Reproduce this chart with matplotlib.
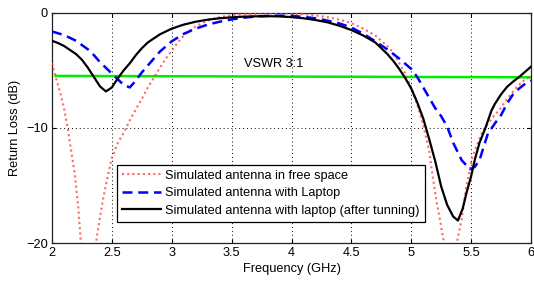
import matplotlib
matplotlib.use("Agg")
import matplotlib.pyplot as plt

plt.rcParams["font.family"] = ["Liberation Sans", "DejaVu Sans"]

# Simulated antenna in free space (red dotted)
free_f = [2.00, 2.03, 2.07, 2.10, 2.13, 2.16, 2.19, 2.22, 2.24, 2.27, 2.30, 2.33, 2.37, 2.40,
          2.43, 2.47, 2.50, 2.55, 2.60, 2.65, 2.70, 2.75, 2.80, 2.86, 2.90, 2.95, 3.00, 3.05,
          3.10, 3.20, 3.30, 3.40, 3.50, 3.60, 3.70, 3.80, 3.90, 4.00, 4.10, 4.20, 4.30, 4.40,
          4.50, 4.60, 4.70, 4.80, 4.85, 4.90, 4.95, 5.00, 5.05, 5.10, 5.15, 5.18, 5.21, 5.24,
          5.27, 5.30, 5.33, 5.36, 5.38, 5.42, 5.46, 5.51, 5.56, 5.60, 5.68, 5.74, 5.80, 5.87,
          5.94, 6.00]
free_s = [-4.4, -5.6, -7.0, -8.3, -10.0, -12.0, -14.0, -17.0, -19.8, -23.0, -25.0, -23.5, -19.8, -17.8,
          -16.0, -14.0, -12.6, -11.3, -10.4, -9.35, -8.4, -7.5, -6.5, -5.5, -4.8, -4.0, -3.3, -2.6,
          -2.0, -1.2, -0.7, -0.4, -0.25, -0.15, -0.1, -0.08, -0.08, -0.1, -0.15, -0.25, -0.4, -0.62,
          -0.92, -1.4, -2.0, -2.9, -3.5, -4.4, -5.3, -6.5, -8.0, -9.8, -12.0, -14.3, -16.3, -18.0,
          -19.8, -22.5, -24.0, -22.5, -20.0, -18.0, -15.1, -12.5, -11.2, -10.2, -9.1, -8.4, -7.5, -6.6,
          -5.9, -5.5]

# Simulated antenna with Laptop (blue dashed)
lap_f = [2.00, 2.10, 2.20, 2.30, 2.35, 2.40, 2.45, 2.50, 2.55, 2.60, 2.65, 2.70, 2.75, 2.80,
         2.90, 3.00, 3.10, 3.20, 3.30, 3.40, 3.50, 3.60, 3.70, 3.80, 3.90, 4.00, 4.10, 4.20,
         4.30, 4.40, 4.50, 4.60, 4.70, 4.80, 4.90, 5.00, 5.05, 5.10, 5.15, 5.20, 5.25, 5.30,
         5.35, 5.42, 5.49, 5.53, 5.57, 5.64, 5.70, 5.75, 5.80, 5.85, 5.90, 5.95, 6.00]
lap_s = [-1.65, -1.95, -2.45, -3.2, -3.7, -4.3, -4.8, -5.3, -5.8, -6.3, -6.5, -5.9, -5.2, -4.6,
         -3.4, -2.5, -1.85, -1.4, -1.05, -0.8, -0.6, -0.45, -0.35, -0.3, -0.28, -0.3, -0.38, -0.5,
         -0.7, -0.95, -1.3, -1.85, -2.5, -3.2, -4.0, -4.9, -5.6, -6.5, -7.4, -8.3, -9.0, -9.9,
         -11.3, -12.8, -13.6, -13.4, -12.8, -10.5, -9.6, -8.9, -7.9, -7.1, -6.6, -6.2, -5.9]

# Simulated antenna with laptop, after tuning (black solid)
tun_f = [2.00, 2.05, 2.10, 2.15, 2.20, 2.25, 2.30, 2.35, 2.40, 2.45, 2.50, 2.55, 2.60, 2.65,
         2.70, 2.75, 2.80, 2.90, 3.00, 3.10, 3.20, 3.30, 3.40, 3.50, 3.60, 3.70, 3.80, 3.90,
         4.00, 4.10, 4.20, 4.30, 4.40, 4.50, 4.60, 4.70, 4.80, 4.85, 4.90, 4.95, 5.00, 5.05,
         5.10, 5.15, 5.20, 5.25, 5.30, 5.35, 5.39, 5.43, 5.46, 5.50, 5.53, 5.57, 5.62, 5.67,
         5.70, 5.75, 5.80, 5.85, 5.90, 5.95, 6.00]
tun_s = [-2.45, -2.65, -2.9, -3.25, -3.6, -4.1, -4.8, -5.6, -6.4, -6.85, -6.5, -5.7, -5.0, -4.4,
         -3.7, -3.1, -2.6, -1.9, -1.4, -1.05, -0.8, -0.62, -0.5, -0.42, -0.36, -0.33, -0.32, -0.34,
         -0.4, -0.5, -0.65, -0.85, -1.15, -1.52, -2.0, -2.6, -3.6, -4.2, -4.9, -5.7, -6.6, -7.8,
         -9.2, -11.0, -12.9, -15.1, -16.7, -17.7, -18.05, -17.0, -15.7, -14.2, -12.8, -11.3, -10.0, -8.5,
         -7.9, -7.1, -6.45, -6.0, -5.6, -5.15, -4.7]

# VSWR 3:1 reference line
vswr_f = [2.03, 6.0]
vswr_s = [-5.5, -5.62]

labels = ["Simulated antenna in free space",
          "Simulated antenna with Laptop",
          "Simulated antenna with laptop (after tunning)"]

fig = plt.figure(figsize=(5.34, 2.81), dpi=100)
ax = fig.add_axes([0.0974, 0.1352, 0.897, 0.8203])

ax.plot(vswr_f, vswr_s, color="#00ee00", linewidth=1.8, zorder=2)
ax.plot(free_f, free_s, color="#ff4040", linewidth=1.5, linestyle=(0, (1, 1.5)),
        alpha=0.8, label=labels[0], zorder=3)
ax.plot(lap_f, lap_s, color="#0000ff", linewidth=1.8, linestyle=(0, (4, 2.3)),
        label=labels[1], zorder=4)
ax.plot(tun_f, tun_s, color="black", linewidth=1.6, label=labels[2], zorder=5)

ax.text(3.60, -4.5, "VSWR 3:1", fontsize=9.2, ha="left", va="center")

ax.set_xlim(2, 6)
ax.set_ylim(-20, 0)
ax.set_xticks([2, 2.5, 3, 3.5, 4, 4.5, 5, 5.5, 6])
ax.set_xticklabels(["2", "2.5", "3", "3.5", "4", "4.5", "5", "5.5", "6"])
ax.set_yticks([-20, -10, 0])
ax.tick_params(direction="in", length=3, width=0.8, labelsize=9.2, pad=3,
               top=True, right=True)
ax.grid(True, color="black", linestyle=(0, (1, 3)), linewidth=0.7)
for sp in ax.spines.values():
    sp.set_linewidth(0.9)
    sp.set_color("#222222")

ax.set_xlabel("Frequency (GHz)", fontsize=9.2, labelpad=2.5)
ax.set_ylabel("Return Loss (dB)", fontsize=9.2, labelpad=4)

leg = ax.legend(loc="lower left", bbox_to_anchor=(0.135, 0.092), borderaxespad=0,
                fontsize=9.2, fancybox=False, edgecolor="black", framealpha=1,
                handlelength=3.1, handletextpad=0.3, labelspacing=0.43, borderpad=0.4)
leg.get_frame().set_linewidth(0.9)

fig.savefig("out.png", dpi=100)
